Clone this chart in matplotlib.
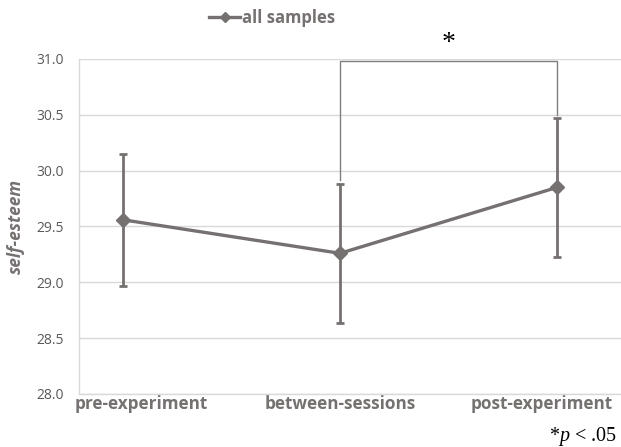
import matplotlib.pyplot as plt
import matplotlib.transforms as mtransforms
import numpy as np
from matplotlib.lines import Line2D

# mean self-esteem per phase with error bar half-widths
phases = ["pre-experiment", "between-sessions", "post-experiment"]
means = [29.56, 29.26, 29.85]
errors = [0.59, 0.62, 0.62]
series_name = "all samples"

# significance bracket between the last two phases
bracket_pair = (1, 2)
bracket_top = 30.98
bracket_feet = [29.92, 30.50]

grey = "#767171"
tick_grey = "#595959"
font = "Open Sans"

plt.rcParams["mathtext.fontset"] = "custom"
plt.rcParams["mathtext.rm"] = "Liberation Serif"
plt.rcParams["mathtext.it"] = "Liberation Serif:italic"

fig = plt.figure(figsize=(6.21, 4.47), dpi=100)
ax = fig.add_axes([79 / 621, 53 / 447, 1 - 79 / 621, 335 / 447])

x = np.arange(len(phases))
ax.errorbar(x, means, yerr=errors, color=grey, lw=2.4, marker="D", ms=7,
            capsize=3, capthick=2.0, elinewidth=2.0, zorder=3)

# bracket
x0, x1 = bracket_pair
ax.plot([x0, x0, x1, x1], [bracket_feet[0], bracket_top, bracket_top, bracket_feet[1]],
        color="#7f7f7f", lw=1.0, zorder=2)
ax.text((x0 + x1) / 2, 1.047, "*", transform=ax.get_xaxis_transform(),
        ha="center", va="center", fontsize=20, family="Liberation Serif")

ax.set_xlim(-0.203, 2.295)
ax.set_ylim(28.0, 31.0)
ax.set_yticks(np.arange(28.0, 31.01, 0.5))
ax.set_yticklabels([f"{v:.1f}" for v in np.arange(28.0, 31.01, 0.5)],
                   family=font, fontsize=10, color=tick_grey)
ax.set_xticks(x)
ax.set_xticklabels(phases, family=font, fontsize=12.3, fontweight="bold",
                   color=grey)
ax.tick_params(axis="both", length=0)
ax.tick_params(axis="y", pad=11)
ax.tick_params(axis="x", pad=1)

# keep the outer category labels inside the figure
xlabels = ax.get_xticklabels()
xlabels[0].set_ha("left")
xlabels[0].set_transform(xlabels[0].get_transform() +
                         mtransforms.ScaledTranslation(-0.48, 0, fig.dpi_scale_trans))
xlabels[2].set_ha("right")
xlabels[2].set_transform(xlabels[2].get_transform() +
                         mtransforms.ScaledTranslation(0.56, 0, fig.dpi_scale_trans))

ax.grid(axis="y", color="#d9d9d9", lw=1.0)
ax.set_axisbelow(True)
for side in ["top", "right"]:
    ax.spines[side].set_visible(False)
for side in ["left", "bottom"]:
    ax.spines[side].set_color("#d9d9d9")
    ax.spines[side].set_linewidth(1.0)

ax.set_ylabel("self-esteem", family=font, fontsize=12.5, fontweight="bold",
              fontstyle="italic", color=grey, labelpad=8)

handle = Line2D([], [], color=grey, lw=2.4, marker="D", ms=5)
leg = fig.legend([handle], [series_name], loc="center",
                 bbox_to_anchor=(272 / 621, 1 - 18 / 447),
                 frameon=False, handlelength=1.9, handletextpad=0.1,
                 prop={"family": font, "size": 12, "weight": "bold"})
for t in leg.get_texts():
    t.set_color(grey)

fig.text(617 / 621, 1 - 436 / 447, r"*$\mathit{p}$ < .05", ha="right", va="center",
         fontsize=14.5, family="Liberation Serif")

fig.savefig("out.png", dpi=100)
